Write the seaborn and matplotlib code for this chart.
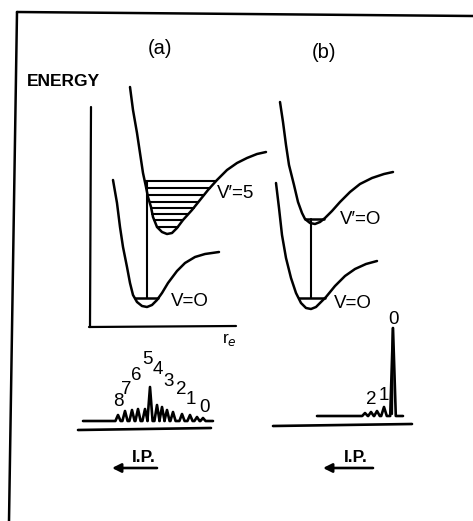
import numpy as np
import matplotlib
matplotlib.use("Agg")
import matplotlib.pyplot as plt
import seaborn as sns

sns.set_theme(style="white")
plt.rcParams['font.family'] = ['Liberation Sans', 'DejaVu Sans']

# ---------------- data (drawing units) ----------------
# panel (a) : ground-state potential curve
r_ground_a = [113, 117, 120, 123, 127, 130, 133, 137, 142, 147, 152, 157, 162, 168, 177, 185, 195, 205, 219]
E_ground_a = [180, 203, 227, 247, 267, 283, 295, 302, 306, 307, 305, 300, 293, 283, 271, 263, 257, 254, 252]
# panel (a) : ion-state potential curve (displaced)
r_ion_a = [130, 133, 137, 140, 143, 146, 148, 151, 153, 157, 162, 167, 172, 177, 183, 192, 200, 208, 217, 227, 237, 247, 257, 266]
E_ion_a = [87, 110, 133, 153, 173, 187, 197, 207, 217, 227, 232, 234, 233, 228, 220, 210, 200, 190, 180, 170, 163, 158, 154, 152]
# vibrational levels of the ion in (a)
levels_ion_a = [181, 188, 195, 202, 208, 214, 220, 227]
level_ground_a = 298

# panel (b) : ground-state potential curve
r_ground_b = [276, 279, 282, 286, 291, 296, 301, 306, 311, 316, 321, 326, 335, 345, 355, 366, 377]
E_ground_b = [183, 208, 235, 258, 278, 293, 303, 308, 309, 307, 302, 297, 286, 276, 269, 264, 261]
# panel (b) : ion-state potential curve (not displaced)
r_ion_b = [280, 283, 286, 289, 294, 298, 302, 305, 310, 315, 320, 325, 332, 340, 350, 360, 372, 384, 393]
E_ion_b = [102, 122, 145, 165, 185, 202, 213, 219, 223, 224, 222, 218, 211, 202, 192, 184, 178, 174, 172]
levels_ion_b = [219]
level_ground_b = 298

# photoelectron spectra: peak positions and heights
peak_x_a = [118, 125, 132, 138, 145, 150, 157, 162, 167, 173, 182, 190, 197, 203]
peak_h_a = [6, 10, 11, 12, 12, 34, 16, 14, 11, 9, 7, 6, 4, 3]
band_labels_a = ['8', '7', '6', '5', '4', '3', '2', '1', '0']

peak_x_b = [365, 371, 377, 384, 393]
peak_h_b = [3, 4, 5, 9, 88]
band_labels_b = ['2', '1', '0']

# ---------------- figure ----------------
fig = plt.figure(figsize=(4.73, 5.21), dpi=100)
ax = fig.add_axes([0, 0, 1, 1])
ax.set_xlim(0, 473)
ax.set_ylim(521, 0)
ax.axis('off')

LW = 1.8
K = 'black'


def curve(r, e, lw=LW):
    sns.lineplot(x=r, y=e, sort=False, estimator=None, color=K, lw=lw, ax=ax)


def wall_x(r, e, level):
    i = int(np.argmax(e))
    rl, el = np.array(r[:i + 1]), np.array(e[:i + 1])
    rr, er = np.array(r[i:]), np.array(e[i:])
    xl = np.interp(level, el, rl)
    xr = np.interp(level, er[::-1], rr[::-1])
    return xl, xr


# frame of the page
ax.plot([17, 473], [12, 16], color=K, lw=1.8)
ax.plot([17, 9], [12, 521], color=K, lw=1.8)

# energy axes for (a)
ax.plot([91, 90], [107, 327], color=K, lw=1.6)
ax.plot([89, 236], [327, 326], color=K, lw=1.6)

# potential curves
for r, e in [(r_ground_a, E_ground_a), (r_ion_a, E_ion_a),
             (r_ground_b, E_ground_b), (r_ion_b, E_ion_b)]:
    curve(r, e)

# vibrational levels
for lv in levels_ion_a:
    xl, xr = wall_x(r_ion_a, E_ion_a, lv)
    ax.plot([xl, xr], [lv, lv], color=K, lw=1.5)
xl, xr = wall_x(r_ground_a, E_ground_a, level_ground_a)
ax.plot([xl, xr], [level_ground_a, level_ground_a], color=K, lw=1.8)
for lv in levels_ion_b:
    xl, xr = wall_x(r_ion_b, E_ion_b, lv)
    ax.plot([xl, xr], [lv, lv], color=K, lw=1.8)
xl, xr = wall_x(r_ground_b, E_ground_b, level_ground_b)
ax.plot([xl, xr], [level_ground_b, level_ground_b], color=K, lw=1.8)

# vertical transitions
ax.plot([147, 147], [level_ground_a, levels_ion_a[0]], color=K, lw=1.5)
ax.plot([311, 311], [level_ground_b, levels_ion_b[0]], color=K, lw=1.5)


# spectra
def trace(px, ph, x0, x1, base, w):
    xs, ys = [x0], [base]
    for x, h in zip(px, ph):
        xs += [x - w, x, x + w]
        ys += [base, base - h, base]
    xs.append(x1)
    ys.append(base)
    sns.lineplot(x=xs, y=ys, sort=False, estimator=None, color=K, lw=1.9, ax=ax)


trace(peak_x_a, peak_h_a, 83, 213, 421, 2.6)
ax.plot([78, 211], [430, 428], color=K, lw=1.9)

trace(peak_x_b, peak_h_b, 317, 403, 416, 2.8)
ax.plot([392, 392.8], [414, 328], color=K, lw=1.6)
ax.plot([273, 412], [426, 424], color=K, lw=1.9)

# band labels (a)
lab_pos_a = [(118, 401), (126, 390), (136, 375), (147, 360), (158, 370),
             (169, 382), (181, 390), (191, 400), (204, 408)]
for t, (x, y) in zip(band_labels_a, lab_pos_a):
    ax.text(x, y, t, fontsize=13.5, ha='center', va='center', color=K)
lab_pos_b = [(371, 400), (384, 395), (393, 320)]
for t, (x, y) in zip(band_labels_b, lab_pos_b):
    ax.text(x, y, t, fontsize=13.5, ha='center', va='center', color=K)

# texts
ax.text(160, 48, '(a)', fontsize=14.5, ha='center', va='center', color=K)
ax.text(324, 53, '(b)', fontsize=14.5, ha='center', va='center', color=K)
ax.text(27, 81, 'ENERGY', fontsize=12.5, ha='left', va='center', color=K,
        fontweight='bold')
ax.text(236, 193, "V′=5", fontsize=13.5, ha='center', va='center', color=K)
ax.text(190, 301, "V=O", fontsize=13.5, ha='center', va='center', color=K)
ax.text(361, 220, "V′=O", fontsize=13.5, ha='center', va='center', color=K)
ax.text(353, 303, "V=O", fontsize=13.5, ha='center', va='center', color=K)
ax.text(229, 340, r"r$_e$", fontsize=12.5, ha='center', va='center', color=K)

# I.P. arrows
for x_tail, x_head, xt in [(157, 112, 144), (373, 323, 356)]:
    ax.annotate('', xy=(x_head, 468), xytext=(x_tail, 468),
                arrowprops=dict(arrowstyle='-|>', color=K, lw=1.9,
                                mutation_scale=13, shrinkA=0, shrinkB=0))
    ax.text(xt, 458, 'I.P.', fontsize=12.5, ha='center', va='center',
            color=K, fontweight='bold')

fig.savefig('out.png', dpi=100, facecolor='white')
